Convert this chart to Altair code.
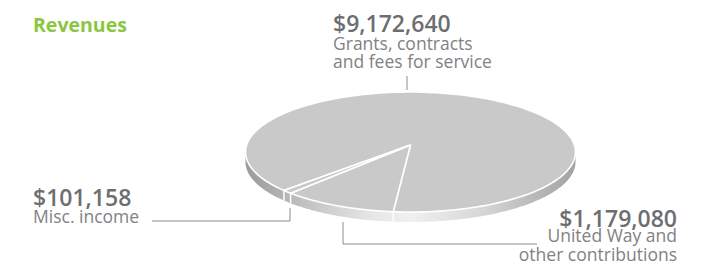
import altair as alt
import pandas as pd

# ---------------- data ----------------
categories = ["Grants, contracts and fees for service",
              "United Way and other contributions",
              "Misc. income"]
amounts = [9172640, 1179080, 101158]
value_labels = ["$9,172,640", "$1,179,080", "$101,158"]
label_lines = ["Grants, contracts\nand fees for service",
               "United Way and\nother contributions",
               "Misc. income"]
stack_order = [2, 0, 1]  # clockwise order starting at START_DEG

title_text = "Revenues"

# ---------------- layout (page pixels) ----------------
W, H = 703, 254
CX, CY, RX, RY = 410.5, 152.0, 165.0, 60.0
APEX_DY = -7.0
DEPTH = 10.0
START_DEG = 186.0
N = 160
FONT = "Open Sans"

x_scale = alt.Scale(domain=[8, 8 + W], nice=False, zero=False)
y_scale = alt.Scale(domain=[8, 8 + H], nice=False, zero=False, reverse=True)

# anchor positions for annotations: (x, baseline y, align)
value_pos = [(333, 32, "left"), (677, 227, "right"), (33, 206, "left")]
label_pos = [(333, 49.5, "left"), (677, 242, "right"), (33, 223, "left")]
leader_paths = [
    [(407, 76), (407, 90)],
    [(537, 244), (343, 244), (343, 222)],
    [(152, 221), (290, 221), (290, 208)],
]

slices = pd.DataFrame({
    "label": categories,
    "value": amounts,
    "order": stack_order,
    "steps": [list(range(-1, N + 2)) for _ in categories],
})

def pie_base():
    return (
        alt.Chart(slices)
        .transform_joinaggregate(total="sum(value)")
        .transform_window(cum="sum(value)", sort=[alt.SortField("order")], frame=[None, 0])
        .transform_calculate(
            t0=f"{START_DEG}*PI/180 + 2*PI*(datum.cum - datum.value)/datum.total",
            t1=f"{START_DEG}*PI/180 + 2*PI*datum.cum/datum.total",
        )
    )

# top face slices
top = (
    pie_base()
    .transform_flatten(["steps"], as_=["step"])
    .transform_calculate(
        theta=f"datum.t0 + (datum.t1 - datum.t0) * clamp(datum.step, 0, {N}) / {N}",
    )
    .transform_calculate(
        px=f"(datum.step < 0 || datum.step > {N}) ? {CX} : {CX} + {RX}*sin(datum.theta)",
        py=f"(datum.step < 0 || datum.step > {N}) ? {CY + APEX_DY} : {CY} - {RY}*cos(datum.theta)",
    )
    .mark_line(fill="#c9c9c9", stroke="#ffffff", strokeWidth=1.6, strokeJoin="round")
    .encode(
        x=alt.X("px:Q", scale=x_scale, axis=None),
        y=alt.Y("py:Q", scale=y_scale, axis=None),
        order=alt.Order("step:Q"),
        detail="label:N",
    )
)

# rim (visible front half)
rim = (
    alt.Chart(alt.sequence(0, 181, as_="deg"))
    .transform_calculate(a="(90 + datum.deg) * PI / 180")
    .transform_calculate(
        rxp=f"{CX} + {RX}*sin(datum.a)",
        rtop=f"{CY} - {RY}*cos(datum.a)",
    )
    .transform_calculate(rbot=f"datum.rtop + {DEPTH}")
    .mark_area(
        color=alt.Gradient(
            gradient="linear", x1=0, x2=1, y1=0, y2=0,
            stops=[
                alt.GradientStop(color="#9a9a9a", offset=0),
                alt.GradientStop(color="#c2c2c2", offset=0.18),
                alt.GradientStop(color="#e6e6e6", offset=0.38),
                alt.GradientStop(color="#f0f0f0", offset=0.5),
                alt.GradientStop(color="#d6d6d6", offset=0.72),
                alt.GradientStop(color="#a2a2a2", offset=1),
            ],
        )
    )
    .encode(
        x=alt.X("rxp:Q", scale=x_scale, axis=None),
        y=alt.Y("rbot:Q", scale=y_scale, axis=None),
        y2="rtop:Q",
    )
)

# slice separators on the rim
seps = (
    pie_base()
    .transform_calculate(
        bx=f"{CX} + {RX}*sin(datum.t0)",
        by=f"{CY} - {RY}*cos(datum.t0)",
        lower="cos(datum.t0) < 0",
    )
    .transform_filter("datum.lower")
    .transform_calculate(by2=f"datum.by + {DEPTH}")
    .mark_rule(color="#ffffff", strokeWidth=1.5)
    .encode(
        x=alt.X("bx:Q", scale=x_scale, axis=None),
        y=alt.Y("by:Q", scale=y_scale, axis=None),
        y2="by2:Q",
    )
)

# leader lines
lead_rows = []
for i, path in enumerate(leader_paths):
    for j, (lx, ly) in enumerate(path):
        lead_rows.append({"id": i, "seq": j, "x": lx, "y": ly})
leaders = (
    alt.Chart(pd.DataFrame(lead_rows))
    .mark_line(color="#8c8c8c", strokeWidth=1)
    .encode(
        x=alt.X("x:Q", scale=x_scale, axis=None),
        y=alt.Y("y:Q", scale=y_scale, axis=None),
        order="seq:Q",
        detail="id:N",
    )
)

def text_layer(texts, pos, size, weight, color, align, line_height=None):
    df = pd.DataFrame({
        "t": texts,
        "x": [p[0] for p in pos],
        "y": [p[1] for p in pos],
        "al": [p[2] for p in pos],
    })
    df = df[df["al"] == align]
    kw = dict(font=FONT, fontSize=size, fontWeight=weight, color=color,
              align=align, baseline="alphabetic")
    if line_height is not None:
        kw.update(lineBreak="\n", lineHeight=line_height)
    return (
        alt.Chart(df)
        .mark_text(**kw)
        .encode(
            x=alt.X("x:Q", scale=x_scale, axis=None),
            y=alt.Y("y:Q", scale=y_scale, axis=None),
            text="t:N",
        )
    )

texts = []
for al in ["left", "right"]:
    texts.append(text_layer(value_labels, value_pos, 23, 600, "#6d6e71", al))
    texts.append(text_layer(label_lines, label_pos, 17.5, "normal", "#808285", al, 18.7))

title = (
    alt.Chart(pd.DataFrame({"t": [title_text], "x": [33], "y": [32]}))
    .mark_text(font=FONT, fontSize=19.5, fontWeight="bold", color="#8cc63f",
               align="left", baseline="alphabetic")
    .encode(
        x=alt.X("x:Q", scale=x_scale, axis=None),
        y=alt.Y("y:Q", scale=y_scale, axis=None),
        text="t:N",
    )
)

chart = (
    alt.layer(rim, seps, top, leaders, *texts, title)
    .properties(width=W, height=H, padding=0, background="#ffffff")
    .configure_view(stroke=None)
)

chart.save("out.html", embed_options={"renderer": "svg", "actions": False})
